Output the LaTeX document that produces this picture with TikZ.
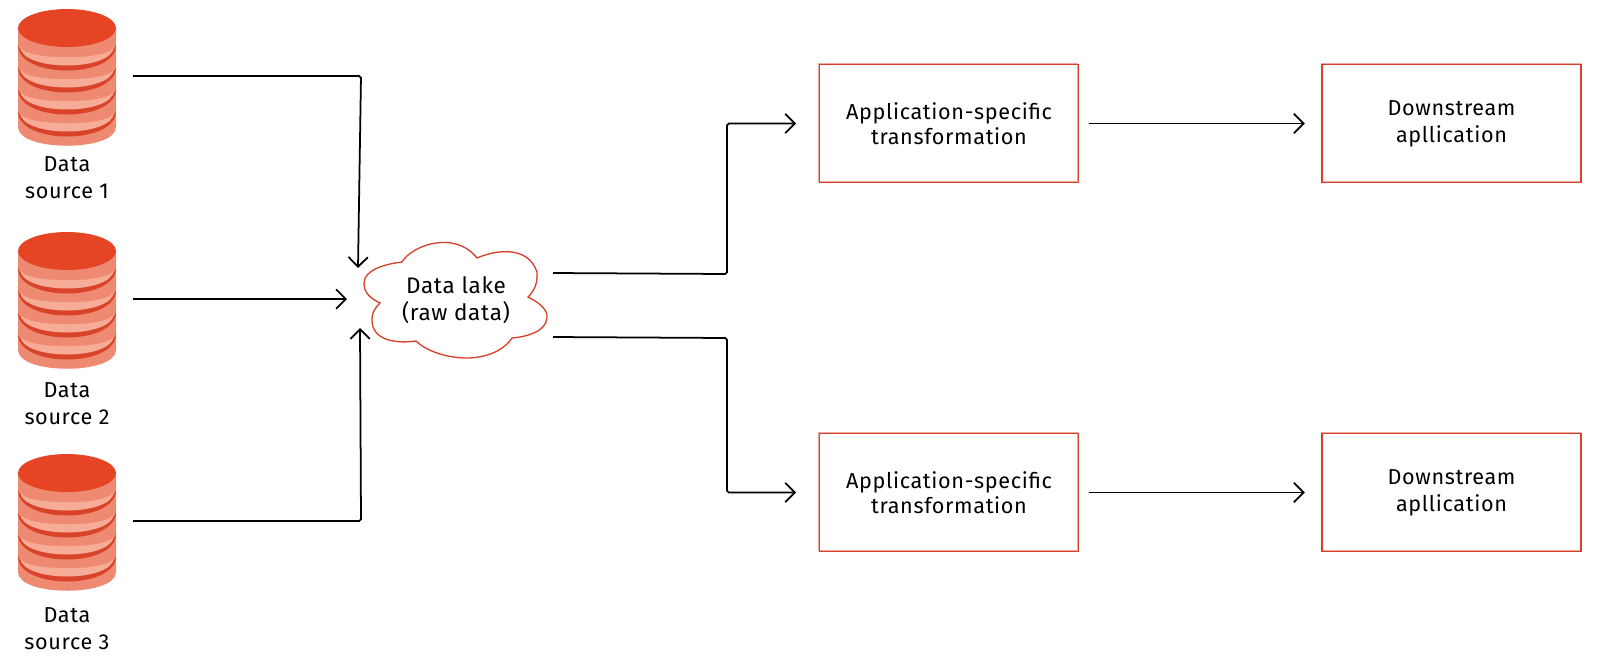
\documentclass[tikz,border=0pt]{standalone}
\usepackage{fontspec}
\setmainfont[LetterSpace=3]{Fira Sans}
\usetikzlibrary{arrows.meta}
\definecolor{lakered}{HTML}{D9402A}
\definecolor{drumtop}{HTML}{E64525}
\definecolor{drumside}{HTML}{EF8A72}
\definecolor{drumpale}{HTML}{F7AC98}
\definecolor{drumdark}{HTML}{D8432A}
\tikzset{
  sketchline/.style={black,line width=1pt,-{Straight Barb[length=5.5pt,width=11pt]},rounded corners=1pt},
  sketchbox/.style={draw=lakered,line width=0.6pt,minimum width=147.4pt,minimum height=67pt,inner sep=0pt,
    preaction={draw=lakered!45,line width=0.6pt,transform canvas={xshift=-0.5pt,yshift=0.4pt}}},
  boxtext/.style={font=\fontsize{12.3}{15.2}\selectfont,align=center},
  laketext/.style={font=\fontsize{12.8}{15.4}\selectfont,align=center},
  srcnode/.style={minimum width=75pt,minimum height=78pt,inner sep=0pt},
  srctext/.style={font=\fontsize{12.3}{15.2}\selectfont,align=center,inner sep=0pt}
}
% one stack of disks, #1 is the vertical offset
\newcommand{\drum}[1]{
  \begin{scope}[shift={(0,#1)}]
    \fill[drumside] (18,28) -- (18,127) .. controls (18,152) and (116,152) .. (116,127) -- (116,28) -- cycle;
    \foreach \k in {0,22,44,66} {
      \fill[drumdark] (18,\k+45) .. controls (18,\k+62) and (116,\k+62) .. (116,\k+45)
        .. controls (116,\k+79) and (18,\k+79) .. (18,\k+45) -- cycle;
      \fill[drumpale] (20,\k+46) .. controls (20,\k+61) and (114,\k+61) .. (114,\k+46)
        .. controls (114,\k+72) and (20,\k+72) .. (20,\k+46) -- cycle;
    }
    \fill[drumtop] (67,28) ellipse[x radius=49,y radius=19];
  \end{scope}
}

\begin{document}
\begin{tikzpicture}[x=0.02cm,y=-0.02cm]
  \useasboundingbox (0,0) rectangle (1600,664);
  \drum{0}
  \drum{223}
  \drum{445}

  % nodes
  \node [srcnode] (src1) at (67,76) {};
  \node [srcnode] (src2) at (67,299) {};
  \node [srcnode] (src3) at (67,521) {};
  \node [srctext] (srclabel1) at (67,178) {Data\\source 1};
  \node [srctext] (srclabel2) at (67,403.5) {Data\\source 2};
  \node [srctext] (srclabel3) at (67,629) {Data\\source 3};

  \draw [lakered,line width=0.75pt,fill=white]
    (402,262) .. controls (412,245) and (455,230) .. (477,258)
    .. controls (495,250) and (528,245) .. (537,272)
    .. controls (538,285) and (533,292) .. (528,297)
    .. controls (540,303) and (548,310) .. (547,318)
    .. controls (546,332) and (525,337) .. (512,338)
    .. controls (500,356) and (475,358) .. (467,358)
    .. controls (445,358) and (425,350) .. (416,341)
    .. controls (395,344) and (372,340) .. (372,320)
    .. controls (372,312) and (375,308) .. (380,303)
    .. controls (370,298) and (364,293) .. (364,283)
    .. controls (364,270) and (385,264) .. (402,262) -- cycle;
  \node [laketext] (lake) at (456,300) {Data lake\\(raw data)};

  \node [sketchbox,boxtext] (trans1) at (949,123.5) {Application-specific\\[-1pt]transformation};
  \node [sketchbox,boxtext] (trans2) at (949,492.5) {Application-specific\\[-1pt]transformation};
  \node [sketchbox,boxtext] (app1) at (1451.5,123.5) {\raisebox{-0.5pt}{Downstream}\\\raisebox{-0.5pt}{apllication}};
  \node [sketchbox,boxtext] (app2) at (1451.5,492.5) {\raisebox{-0.5pt}{Downstream}\\\raisebox{-0.5pt}{apllication}};

  \coordinate (lakein1) at (358,268);
  \coordinate (lakein2) at (347,299);
  \coordinate (lakein3) at (360,328);
  \coordinate (lakeout1) at (553,273);
  \coordinate (lakeout2) at (553,337);
  \coordinate (bend1) at (361,76);
  \coordinate (bend3) at (361,521);
  \coordinate (bend4) at (727,274);
  \coordinate (bend5) at (727,338);

  % connectors
  \draw [sketchline] (src1.east) -- (bend1) -- (lakein1);
  \draw [sketchline] (src2.east) -- (lakein2);
  \draw [sketchline] (src3.east) -- (bend3) -- (lakein3);
  \draw [sketchline] (lakeout1) -- (bend4) |- ([xshift=-13pt]trans1.west);
  \draw [sketchline] (lakeout2) -- (bend5) |- ([xshift=-13pt]trans2.west);
  \draw [sketchline] ([xshift=5.5pt]trans1.east) -- ([xshift=-9.5pt]app1.west);
  \draw [sketchline] ([xshift=5.5pt]trans2.east) -- ([xshift=-9.5pt]app2.west);
\end{tikzpicture}
\end{document}
